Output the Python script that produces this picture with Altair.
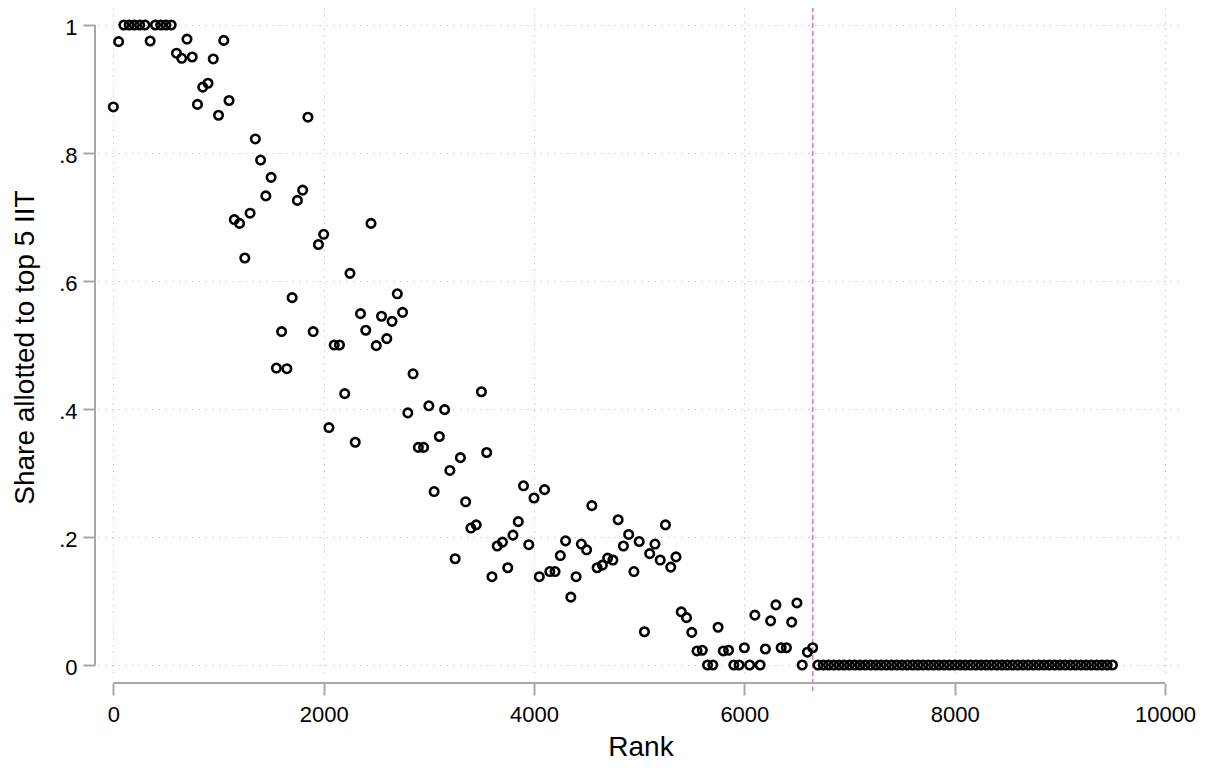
import altair as alt
import pandas as pd

# ---- data ----
ranks = [
    0, 50, 100, 150, 200, 250, 300, 350, 400, 450, 500, 550, 600, 650, 700, 750,
    800, 850, 900, 950, 1000, 1050, 1100, 1150, 1200, 1250, 1300, 1350, 1400, 1450,
    1500, 1550, 1600, 1650, 1700, 1750, 1800, 1850, 1900, 1950, 2000, 2050, 2100,
    2150, 2200, 2250, 2300, 2350, 2400, 2450, 2500, 2550, 2600, 2650, 2700, 2750,
    2800, 2850, 2900, 2950, 3000, 3050, 3100, 3150, 3200, 3250, 3300, 3350, 3400,
    3450, 3500, 3550, 3600, 3650, 3700, 3750, 3800, 3850, 3900, 3950, 4000, 4050,
    4100, 4150, 4200, 4250, 4300, 4350, 4400, 4450, 4500, 4550, 4600, 4650, 4700,
    4750, 4800, 4850, 4900, 4950, 5000, 5050, 5100, 5150, 5200, 5250, 5300, 5350,
    5400, 5450, 5500, 5550, 5600, 5650, 5700, 5750, 5800, 5850, 5900, 5950, 6000,
    6050, 6100, 6150, 6200, 6250, 6300, 6350, 6400, 6450, 6500, 6550, 6600, 6650,
    6700, 6750, 6800, 6850, 6900, 6950, 7000, 7050, 7100, 7150, 7200, 7250, 7300,
    7350, 7400, 7450, 7500, 7550, 7600, 7650, 7700, 7750, 7800, 7850, 7900, 7950,
    8000, 8050, 8100, 8150, 8200, 8250, 8300, 8350, 8400, 8450, 8500, 8550, 8600,
    8650, 8700, 8750, 8800, 8850, 8900, 8950, 9000, 9050, 9100, 9150, 9200, 9250,
    9300, 9350, 9400, 9450, 9500,
]
shares = [
    0.872, 0.974, 1, 1, 1, 1, 1, 0.975, 1, 1, 1, 1, 0.956, 0.948, 0.978, 0.950,
    0.876, 0.903, 0.909, 0.947, 0.859, 0.976, 0.882, 0.696, 0.690, 0.636, 0.706, 0.822, 0.789, 0.733,
    0.762, 0.464, 0.521, 0.463, 0.574, 0.726, 0.742, 0.856, 0.521, 0.657, 0.673, 0.371, 0.500,
    0.500, 0.424, 0.612, 0.348, 0.549, 0.523, 0.690, 0.499, 0.545, 0.510, 0.537, 0.580, 0.551,
    0.394, 0.455, 0.340, 0.340, 0.405, 0.271, 0.357, 0.399, 0.304, 0.166, 0.324, 0.255, 0.214,
    0.219, 0.427, 0.332, 0.138, 0.186, 0.192, 0.152, 0.203, 0.224, 0.280, 0.188, 0.261, 0.138,
    0.274, 0.146, 0.146, 0.171, 0.194, 0.106, 0.138, 0.189, 0.180, 0.249, 0.152, 0.156, 0.167,
    0.164, 0.227, 0.186, 0.204, 0.146, 0.193, 0.052, 0.174, 0.189, 0.164, 0.219, 0.153, 0.169,
    0.083, 0.074, 0.051, 0.022, 0.023, 0, 0, 0.059, 0.022, 0.023, 0, 0, 0.027,
    0, 0.078, 0, 0.025, 0.069, 0.094, 0.027, 0.027, 0.067, 0.097, 0, 0.020, 0.027,
    0, 0, 0, 0, 0, 0, 0, 0, 0, 0, 0, 0, 0,
    0, 0, 0, 0, 0, 0, 0, 0, 0, 0, 0, 0, 0,
    0, 0, 0, 0, 0, 0, 0, 0, 0, 0, 0, 0, 0,
    0, 0, 0, 0, 0, 0, 0, 0, 0, 0, 0, 0, 0,
    0, 0, 0, 0, 0,
]
cutoff_rank = [6650]
x_ticks = [0, 2000, 4000, 6000, 8000, 10000]
y_ticks = [0, 0.2, 0.4, 0.6, 0.8, 1]

# ---- layout ----
W, H = 1085, 669
X_OFF, Y_OFF = 6, 3
FONT = "Liberation Sans"
AXIS_GREY = "#a8a8a8"
GRID_GREY = "#bdbdbd"

df = pd.DataFrame({"rank": ranks, "share": shares})

xscale = alt.Scale(domain=[-146, 10171], nice=False, zero=False)
yscale = alt.Scale(domain=[-0.01875, 1.0266], nice=False, zero=False)

x_axis = alt.Axis(
    values=x_ticks, format="d", domain=False,
    ticks=True, tickSize=12, tickWidth=2, tickColor=AXIS_GREY,
    grid=True, gridColor=GRID_GREY, gridDash=[1.2, 5.5], gridWidth=1,
    labelFont=FONT, labelFontSize=22, labelColor="black", labelPadding=9,
    labelOverlap=False, labelFlush=False, labelBound=False,
    offset=X_OFF,
    title="Rank", titleFont=FONT, titleFontSize=28, titleFontWeight="normal",
    titleColor="black", titleBaseline="alphabetic", titleY=72,
)
y_axis = alt.Axis(
    values=y_ticks, labelExpr="replace(format(datum.value, '.1~f'), '0.', '.')",
    domain=False,
    ticks=True, tickSize=12, tickWidth=2, tickColor=AXIS_GREY,
    grid=True, gridColor=GRID_GREY, gridDash=[1.2, 5.5], gridWidth=1,
    labelFont=FONT, labelFontSize=22, labelColor="black", labelPadding=6,
    labelOffset=2, labelOverlap=False, labelFlush=False, labelBound=False,
    offset=Y_OFF,
    title="Share allotted to top 5 IIT", titleFont=FONT, titleFontSize=28,
    titleFontWeight="normal", titleColor="black", titleAngle=270,
    titleBaseline="alphabetic", titleAlign="center", titleX=-62, titleY=339,
)

points = alt.Chart(df).mark_point(
    shape="circle", filled=False, size=72, strokeWidth=2.6, color="black", opacity=1
).encode(
    x=alt.X("rank:Q", scale=xscale, axis=x_axis),
    y=alt.Y("share:Q", scale=yscale, axis=y_axis),
)

cutoff = alt.Chart(pd.DataFrame({"rank": cutoff_rank})).mark_rule(
    color="#de78b6", strokeDash=[5, 3], strokeWidth=1.6
).encode(
    x=alt.X("rank:Q", scale=xscale, axis=x_axis),
    y=alt.value(-1),
    y2=alt.value(H + 14),
)

xline = alt.Chart(pd.DataFrame({"rank": [x_ticks[0]], "rank_end": [x_ticks[-1]]})).mark_rule(
    color=AXIS_GREY, strokeWidth=2
).encode(
    x=alt.X("rank:Q", scale=xscale, axis=x_axis),
    x2="rank_end:Q",
    y=alt.value(H + X_OFF),
)

yline = alt.Chart(pd.DataFrame({"share": [y_ticks[0]], "share_end": [y_ticks[-1]]})).mark_rule(
    color=AXIS_GREY, strokeWidth=2
).encode(
    y=alt.Y("share:Q", scale=yscale, axis=y_axis),
    y2="share_end:Q",
    x=alt.value(-Y_OFF),
)

chart = alt.layer(cutoff, xline, yline, points).properties(
    width=W, height=H,
    autosize=alt.AutoSizeParams(type="none"),
    padding={"left": 90, "top": 0, "right": 18, "bottom": 85},
    background="white",
).configure_view(stroke=None)

chart.save("out.html", embed_options={"renderer": "svg", "actions": False})
